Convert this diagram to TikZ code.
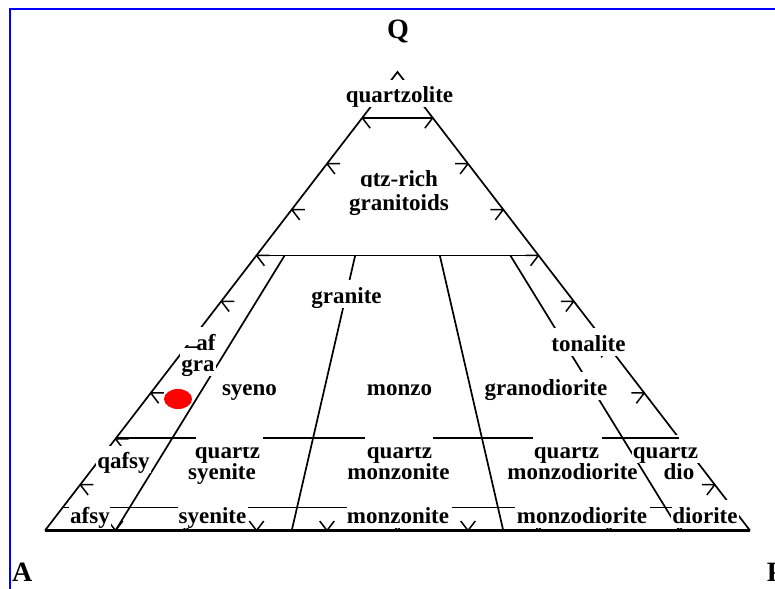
\documentclass[tikz,border=0pt]{standalone}
\usepackage{fontspec}
\setmainfont{Liberation Serif}
\begin{document}
\begin{tikzpicture}[x=1pt,y=-1pt,
  ln/.style={line width=1.7pt},
  tk/.style={line width=1.5pt},
  lbl/.style={font=\fontsize{23}{23}\selectfont\bfseries, fill=white, inner xsep=1pt, inner ysep=0pt, text height=23pt, text depth=4.5pt, anchor=base},
  lbltwo/.style={lbl, fill=none},
  vtx/.style={font=\fontsize{28}{28}\selectfont\bfseries, inner sep=0pt}]
\useasboundingbox (0,0) rectangle (775,588);
% border
\draw[blue, line width=2pt] (10,590) -- (10,9) -- (777,9);
% triangle
\coordinate (A) at (45,530.5);
\coordinate (P) at (750,530.5);
\coordinate (Q) at (397.5,72);
\draw[ln] (A) -- (Q) -- (P);
\draw[line width=2.2pt] (A) -- (P);
% Q-lines 90 and 60
\draw[ln] (362.25,117.85) -- (432.75,117.85);
\draw[ln] (256.5,255.4) -- (538.5,255.4);
% P/(A+P) lines
\draw[ln] (284.7,255.4) -- (115.5,530.5);
\draw[ln] (355.2,255.4) -- (291.75,530.5);
\draw[ln] (439.8,255.4) -- (503.25,530.5);
\draw[ln] (510.3,255.4) -- (679.5,530.5);
% ticks
\foreach \k in {1,...,9}{
  \pgfmathsetmacro\ty{530.5-45.85*\k}
  \pgfmathsetmacro\xl{45+35.25*\k}
  \pgfmathsetmacro\xr{750-35.25*\k}
  \pgfmathsetmacro\xb{45+70.5*\k}
  \draw[tk] (\xl,\ty) -- ++(13,0) (\xl,\ty) -- ++(7.9,10.3);
  \draw[tk] (\xr,\ty) -- ++(-13,0) (\xr,\ty) -- ++(-7.9,10.3);
  \draw[tk] (\xb,530.5) -- ++(-7.3,-9.5) (\xb,530.5) -- ++(7.3,-9.5);
}
% red sample point
\fill[red] (178,399) ellipse [x radius=14, y radius=10];
% vertex labels
\node[vtx, anchor=base] (lq) at (398,38.5) {Q};
\node[vtx, anchor=base west] (la) at (12,581.8) {A};
\node[vtx, anchor=base west] (lp) at (766.7,581.8) {P};
% field labels
\node[lbl] (n1) at (399.5,103) {quartzolite};
\node[lbl] (n2) at (399,186) {qtz-rich};
\node[lbl] (n3) at (399,210) {granitoids};
\node[lbl] (n4) at (346.5,303) {granite};
\node[lbl] (n6) at (198,371) {gra};
\fill[white] (184,327) rectangle (216,345);
\node[lbl, fill=none] (n5) at (206,350) {af};
\node[lbl] (n7) at (249.5,395) {syeno};
\node[lbl] (n8) at (399.5,395) {monzo};
\node[lbl] (n9) at (546,395) {granodiorite};
\node[lbl] (n10) at (588.5,351) {tonalite};
\node[lbl] (n11) at (123.5,468.5) {qafsy};
\node[lbl] (qz1) at (227.5,458) {quartz};
\node[lbltwo] (s1) at (222,479) {syenite};
\node[lbl] (qz2) at (399.5,458) {quartz};
\node[lbltwo] (s2) at (398.5,479) {monzonite};
\node[lbl] (qz3) at (566.5,458) {quartz};
\node[lbltwo] (s3) at (572.5,479) {monzodiorite};
\node[lbl] (qz4) at (665.5,458) {quartz};
\node[lbltwo] (s4) at (679,479) {dio};
\node[lbl] (b1) at (90,523) {afsy};
\node[lbl] (b2) at (212.5,523) {syenite};
\node[lbl] (b3) at (398,523) {monzonite};
\node[lbl] (b4) at (582,523) {monzodiorite};
\node[lbl] (b5) at (705,523) {diorite};
% clipped tops of the "quartz" words
\foreach \n in {qz1,qz2,qz3,qz4}{
  \fill[white] ([yshift=-4.5pt]\n.north west) rectangle ([yshift=-12.5pt]\n.north east);
}
% Q = 20 % line, visible pieces
\draw[ln] (116.1,438) -- (196,438);
\draw[ln] (263,438) -- (365,438);
\draw[ln] (433,438) -- (533,438);
\draw[ln] (602,438) -- (678.9,438);
% Q = 5 % line, visible pieces
\draw[ln] (62.6,507.6) -- (69,507.6);
\draw[ln] (110,507.6) -- (178,507.6);
\draw[ln] (248,507.6) -- (347,507.6);
\draw[ln] (452,507.6) -- (515,507.6);
\draw[ln] (650,507.6) -- (672,507.6);
\end{tikzpicture}
\end{document}
